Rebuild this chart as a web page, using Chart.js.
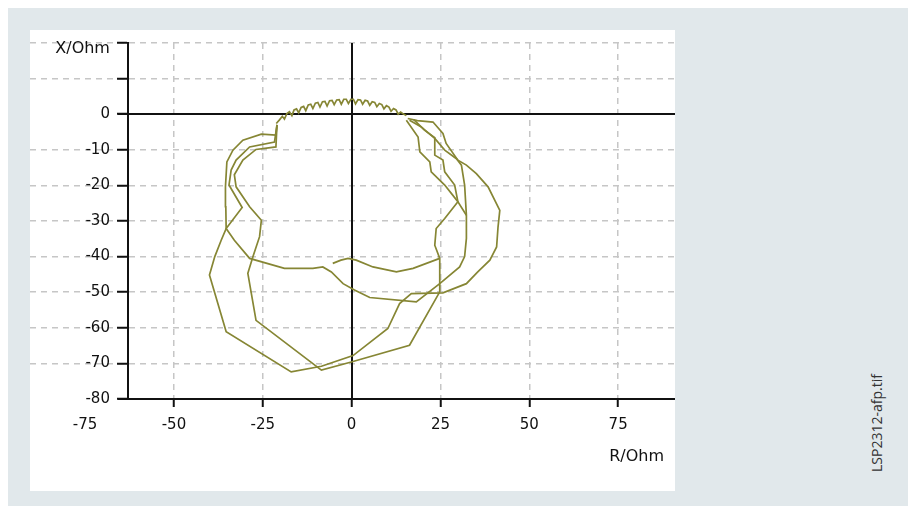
<!DOCTYPE html>
<html><head><meta charset="utf-8">
<script src="https://cdn.jsdelivr.net/npm/chart.js@4/dist/chart.umd.min.js"></script>
<style>
html,body{margin:0;padding:0;background:#fff;width:908px;height:506px;overflow:hidden;}
#bg{position:absolute;left:8px;top:8px;width:900px;height:498px;background:#e1e8eb;}
#panel{position:absolute;left:30px;top:30px;width:645px;height:461px;background:#fff;}
#rlab{position:absolute;left:664px;top:455px;transform:translate(-100%,-50%);font:16px "DejaVu Sans";color:#111;white-space:nowrap;}
#side{position:absolute;left:876px;top:423px;transform:translate(-50%,-50%) rotate(-90deg);font:14px "Open Sans";color:#333;white-space:nowrap;}
</style></head>
<body>
<div id="bg"></div>
<div id="panel"><canvas id="c"></canvas></div>
<div id="rlab">R/Ohm</div>
<div id="side">LSP2312-afp.tif</div>
<script>
// ---- data (R/Ohm, X/Ohm) ----
const xTickValues = [-75, -50, -25, 0, 25, 50, 75];
const yTickValues = [20, 10, 0, -10, -20, -30, -40, -50, -60, -70, -80];
const yAxisTitle = 'X/Ohm';

const arcR = [-21.2,-20.3,-19.5,-18.9,-18.2,-17.5,-16.8,-16.2,-15.5,-14.9,-14.2,-13.5,-12.9,-12.2,-11.5,-10.9,-10.2,-9.5,-8.9,-8.2,-7.5,-6.9,-6.2,-5.5,-4.9,-4.2,-3.5,-2.9,-2.2,-1.5,-0.9,-0.2,0.5,1.1,1.8,2.5,3.1,3.8,4.5,5.1,5.8,6.5,7.1,7.8,8.5,9.1,9.8,10.5,11.1,11.8,12.5,13.1,13.8,14.5,15.4];
const arcX = [-2.6,-1.6,-0.6,-1.4,0.2,0.7,-0.4,1.2,1.5,0.4,1.9,2.2,1.0,2.6,2.8,1.6,3.1,3.3,2.0,3.5,3.6,2.3,3.8,3.9,2.7,4.0,4.1,2.8,4.2,4.2,3.0,4.2,4.2,2.9,4.1,4.0,2.8,3.9,3.7,2.5,3.5,3.3,2.1,3.0,2.7,1.5,2.4,2.0,0.8,1.6,1.2,0.0,0.6,0.1,-0.4];

const loop1R = [15.8,18.5,22.9,25.7,26.6,29.9,32.3,35.1,38.4,41.7,41.2,40.8,38.9,35.5,32.3,25.7,16.8,13.5,10.2,0.4,-8.5,-17,-35.3,-40,-38.5,-36.7,-35.3,-35.4,-35.5,-35.1,-33.4,-30.6,-25.4,-21.3,-21];
const loop1X = [-1.2,-1.8,-2.2,-5.4,-8.2,-12.9,-14.3,-16.7,-20.4,-27,-31.7,-37.3,-41,-44.3,-47.6,-50.2,-50.4,-53.2,-60.2,-67.8,-70.8,-72.4,-61.1,-45.2,-40,-35.4,-32.1,-26,-20.4,-13.4,-10.1,-7.3,-5.6,-5.9,-3];

const loop2R = [16.3,19.5,23.4,26.2,29.5,30.9,31.8,32.3,32.3,31.8,30.4,24.8,18.2,5.1,0.8,-2.4,-5.7,-8.1,-10.9,-18.9,-28.7,-33,-35.3,-30.8,-34.5,-33.9,-32.5,-28.7,-21.7,-21];
const loop2X = [-1.7,-3.5,-6.8,-10.1,-12.5,-14.3,-19.9,-28.4,-34.9,-40,-42.9,-47.6,-52.7,-51.5,-49.4,-47.6,-44.3,-42.9,-43.3,-43.3,-40.5,-35.4,-32.1,-26.2,-19.9,-15.7,-12.9,-9.2,-7.8,-3];

const loop3R = [15.4,18.7,19.2,22,22.4,26.2,28.5,29.9,26.2,23.8,23.4,24.8,24.8,16.3,-0.1,-8.5,-26.9,-29.2,-27.8,-25.9,-25.4,-28.7,-32.5,-33,-30.6,-26.9,-21.3,-21];
const loop3X = [-1.7,-6.4,-10.6,-13.4,-16.2,-19.9,-22.8,-24.6,-29.3,-32.1,-36.8,-40.5,-49.9,-64.9,-69.6,-71.9,-57.9,-44.7,-40.1,-34.4,-29.8,-26,-20.4,-17,-12.9,-9.9,-9.2,-3];

const loop4R = [17.5,20.5,23.4,23.4,25.7,26.2,29,29.9,32.3];
const loop4X = [-1.5,-4.5,-6.6,-11.5,-12.9,-16.2,-19.9,-24.6,-28.4];

const tailR = [-5.3,-3,-1,1.3,6,12.6,17.3,24.8];
const tailX = [-41.9,-41,-40.5,-41,-42.9,-44.3,-43.3,-40.5];

const segments = [[arcR, arcX],[loop1R, loop1X],[loop2R, loop2X],[loop3R, loop3X],[loop4R, loop4X],[tailR, tailX]];

// ---- chart ----
const LINE = '#868634';
const GRID = '#c6c6c6';
const AXIS = '#111';
const Y_AXIS_AT = -63;   // R value where the X axis line sits
const Y_LABEL_AT = -68;  // R value for right edge of X tick labels
const X_AXIS_AT = -80;
const TICK_FONT = {family: 'DejaVu Sans', size: 15};

const datasets = segments.map(([r, x]) => ({
  data: r.map((v, i) => ({x: v, y: x[i]})),
  showLine: true, borderColor: LINE, borderWidth: 1.7, pointRadius: 0, fill: false, tension: 0
}));

const axisLines = {
  id: 'axisLines',
  beforeDatasetsDraw(chart) {
    const {ctx, chartArea, scales: {x, y}} = chart;
    const ax = x.getPixelForValue(Y_AXIS_AT);
    ctx.save();
    ctx.strokeStyle = AXIS; ctx.lineWidth = 2; ctx.setLineDash([]);
    ctx.beginPath();
    for (const v of [0, X_AXIS_AT]) {
      const py = Math.round(y.getPixelForValue(v));
      ctx.moveTo(ax - 10, py); ctx.lineTo(chartArea.right, py);
    }
    const px = Math.round(x.getPixelForValue(0));
    ctx.moveTo(px, y.getPixelForValue(yTickValues[0])); ctx.lineTo(px, y.getPixelForValue(X_AXIS_AT));
    ctx.stroke();
    ctx.restore();
  }
};

new Chart(document.getElementById('c'), {
  type: 'scatter',
  data: {datasets},
  plugins: [axisLines],
  options: {
    responsive: true, maintainAspectRatio: false, animation: false,
    layout: {padding: {top: 13, bottom: 92, left: 0, right: 0}},
    plugins: {legend: {display: false}, tooltip: {enabled: false}},
    scales: {
      x: {
        type: 'linear', min: -90.5, max: 91, position: {y: X_AXIS_AT},
        afterBuildTicks: s => { s.ticks = xTickValues.map(v => ({value: v})); },
        ticks: {padding: 9, color: AXIS, font: TICK_FONT, callback: v => String(v)},
        grid: {
          color: c => (c.tick && (c.tick.value === -75 || c.tick.value === 0)) ? 'rgba(0,0,0,0)' : GRID,
          lineWidth: 1.5, tickLength: 8, tickWidth: 2, tickBorderDash: [],
          tickColor: c => (c.tick && c.tick.value === -75) ? 'rgba(0,0,0,0)' : AXIS
        },
        border: {display: false, dash: [6, 5]}
      },
      y: {
        type: 'linear', min: -80, max: 20, position: {x: Y_AXIS_AT},
        afterBuildTicks: s => { s.ticks = yTickValues.map(v => ({value: v})); },
        ticks: {display: false},
        grid: {
          color: c => (c.tick && (c.tick.value === 0 || c.tick.value === X_AXIS_AT)) ? 'rgba(0,0,0,0)' : GRID,
          lineWidth: 1.5, tickLength: 10, tickWidth: 2, tickBorderDash: [], tickColor: AXIS
        },
        border: {display: true, color: AXIS, width: 2, dash: [6, 5]}
      },
      yLab: {
        type: 'linear', axis: 'y', min: -80, max: 20, position: {x: Y_LABEL_AT},
        afterBuildTicks: s => { s.ticks = yTickValues.map(v => ({value: v})); },
        ticks: {
          padding: 0, color: AXIS,
          font: c => (c.tick && c.tick.value === 20) ? {family: 'DejaVu Sans', size: 16, lineHeight: 0.75} : TICK_FONT,
          callback: v => v === 20 ? ['', yAxisTitle] : (v === 10 ? '' : String(v))
        },
        grid: {display: false},
        border: {display: false}
      }
    }
  }
});
</script>
</body></html>
